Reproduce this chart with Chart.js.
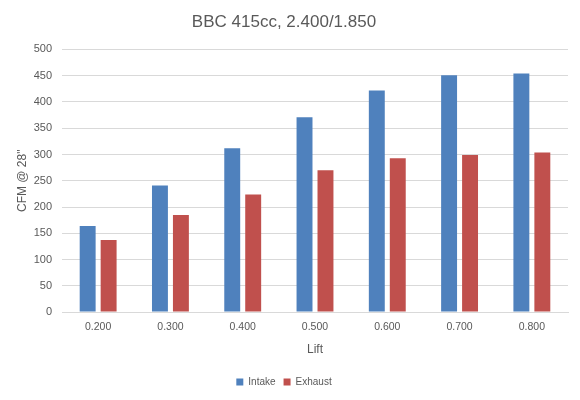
<!DOCTYPE html>
<html>
<head>
<meta charset="utf-8">
<script src="https://cdn.jsdelivr.net/npm/chart.js@4/dist/chart.umd.min.js"></script>
<style>
  html, body { margin: 0; padding: 0; background: #fff; }
  #wrap { width: 580px; height: 400px; }
</style>
</head>
<body>
<div id="wrap"><canvas id="chart" width="580" height="400"></canvas></div>
<script>
// Данные
const lifts = ['0.200', '0.300', '0.400', '0.500', '0.600', '0.700', '0.800'];
const intake = [164, 241, 312, 371, 422, 451, 454];
const exhaust = [137, 185, 224, 270, 293, 299, 304];

const fontFamily = "'Liberation Sans', 'DejaVu Sans', sans-serif";
const textColor = '#595959';
const gridColor = '#d9d9d9';

const ctx = document.getElementById('chart').getContext('2d');
new Chart(ctx, {
    type: 'bar',
    data: {
        labels: lifts,
        datasets: [
            { label: 'Intake', data: intake, backgroundColor: '#4f81bd' },
            { label: 'Exhaust', data: exhaust, backgroundColor: '#c0504d' }
        ]
    },
    options: {
        responsive: false,
        animation: false,
        datasets: {
            bar: { categoryPercentage: 0.58, barPercentage: 0.76 }
        },
        layout: { padding: { left: 0, right: 12, top: 8, bottom: 3 } },
        plugins: {
            title: {
                display: true,
                text: 'BBC 415cc, 2.400/1.850',
                color: textColor,
                font: { family: fontFamily, size: 17, weight: 'normal' },
                padding: { top: 4, bottom: 17 }
            },
            legend: {
                position: 'bottom',
                labels: {
                    color: textColor,
                    font: { family: fontFamily, size: 10 },
                    boxWidth: 7,
                    boxHeight: 7,
                    padding: 8
                }
            },
            tooltip: { enabled: false }
        },
        scales: {
            x: {
                grid: { display: false, drawTicks: false },
                border: { color: gridColor },
                ticks: { color: textColor, font: { family: fontFamily, size: 10.5, lineHeight: 1 }, padding: 10 },
                title: {
                    display: true,
                    text: 'Lift',
                    color: textColor,
                    font: { family: fontFamily, size: 12 },
                    padding: { top: 0, bottom: 12 }
                }
            },
            y: {
                min: 0,
                max: 500,
                ticks: { stepSize: 50, color: textColor, font: { family: fontFamily, size: 11 }, padding: 10 },
                grid: { color: gridColor, drawTicks: false },
                border: { display: false },
                title: {
                    display: true,
                    text: 'CFM @ 28"',
                    color: textColor,
                    font: { family: fontFamily, size: 12 },
                    padding: { top: 15, bottom: 0 }
                },
                afterFit: axis => { axis.width = 62; }
            }
        }
    }
});
</script>
</body>
</html>
